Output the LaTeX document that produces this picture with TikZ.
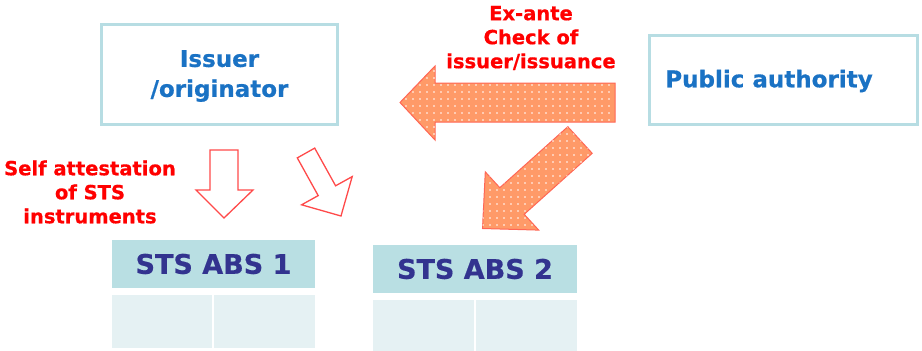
\documentclass[tikz,border=0pt]{standalone}
\usepackage{fontspec}
\setmainfont{DejaVu Sans}[BoldFeatures={FakeBold=0.6}]
\usetikzlibrary{patterns.meta}
\definecolor{boxline}{HTML}{B7DDE3}
\definecolor{bluetxt}{HTML}{1A72C4}
\definecolor{ststxt}{HTML}{32338F}
\definecolor{hdrfill}{HTML}{B9DFE3}
\definecolor{cellfill}{HTML}{E5F1F3}
\definecolor{arrfill}{HTML}{FF9A68}
\definecolor{arrline}{HTML}{FF6655}
\definecolor{hollowline}{HTML}{FF4A4A}
\tikzset{
  framebox/.style={draw=boxline, line width=3pt, fill=white, inner sep=0pt},
  bluelabel/.style={text=bluetxt, font=\bfseries\fontsize{23}{30}\selectfont, align=center},
  redlabel/.style={text=red, font=\bfseries\fontsize{19.5}{24}\selectfont, align=center},
  header/.style={fill=hdrfill, inner sep=0pt, text=ststxt, font=\bfseries\fontsize{27}{30}\selectfont},
  cell/.style={fill=cellfill, inner sep=0pt},
  solidarrow/.style={fill=arrfill, draw=arrline, line width=1pt, line join=miter,
    postaction={pattern={Dots[distance=7pt, radius=0.8pt]}, pattern color=white}},
  hollowarrow/.style={fill=white, draw=hollowline, line width=1.3pt, line join=miter},
}
\begin{document}
\begin{tikzpicture}[x=1pt, y=-1pt]
\useasboundingbox (0,0) rectangle (922,351);

% boxes
\node[framebox, minimum width=236pt, minimum height=100pt] (issuer) at (219.5,74.5) {};
\node[bluelabel] (issuertxt) at (219.5,76) {Issuer\\/originator};
\node[framebox, minimum width=268pt, minimum height=89pt] (pub) at (783.5,80) {};
\node[bluelabel, anchor=center] (pubtxt) at (769,81) {Public authority};

% red labels
\node[redlabel] (exante) at (531,38) {Ex-ante\\Check of\\issuer/issuance};
\node[redlabel] (selfatt) at (90,192) {Self attestation\\of STS\\instruments};

% tables
\node[header, minimum width=203pt, minimum height=48pt] (abs1) at (213.5,264) {STS ABS 1};
\node[cell, minimum width=100pt, minimum height=53pt] (abs1a) at (162,321.5) {};
\node[cell, minimum width=101pt, minimum height=53pt] (abs1b) at (264.5,321.5) {};
\node[header, minimum width=204pt, minimum height=48pt] (abs2) at (475,269) {STS ABS 2};
\node[cell, minimum width=101pt, minimum height=52pt] (abs2a) at (423.5,326) {};
\node[cell, minimum width=101pt, minimum height=52pt] (abs2b) at (526.5,326) {};

% solid orange arrows
\draw[solidarrow] (615,83) -- (435,83) -- (435,66) -- (400,102.5) -- (435,140) -- (435,122) -- (615,122) -- cycle;
\draw[solidarrow] (567.8,126.7) -- (592.2,153.3) -- (524.2,214.3) -- (538.7,230.1)
  -- (482.5,228.5) -- (485.3,171.9) -- (499.8,187.7) -- cycle;

% hollow arrows
\draw[hollowarrow] (210,150) -- (238,150) -- (238,190) -- (253,190) -- (224,218)
  -- (196,190) -- (210,190) -- cycle;
\draw[hollowarrow] (297.3,157.9) -- (314.7,148.1) -- (335.6,185.8) -- (352.2,176.6)
  -- (341,216) -- (301.6,204.8) -- (318.2,195.6) -- cycle;
\end{tikzpicture}
\end{document}
